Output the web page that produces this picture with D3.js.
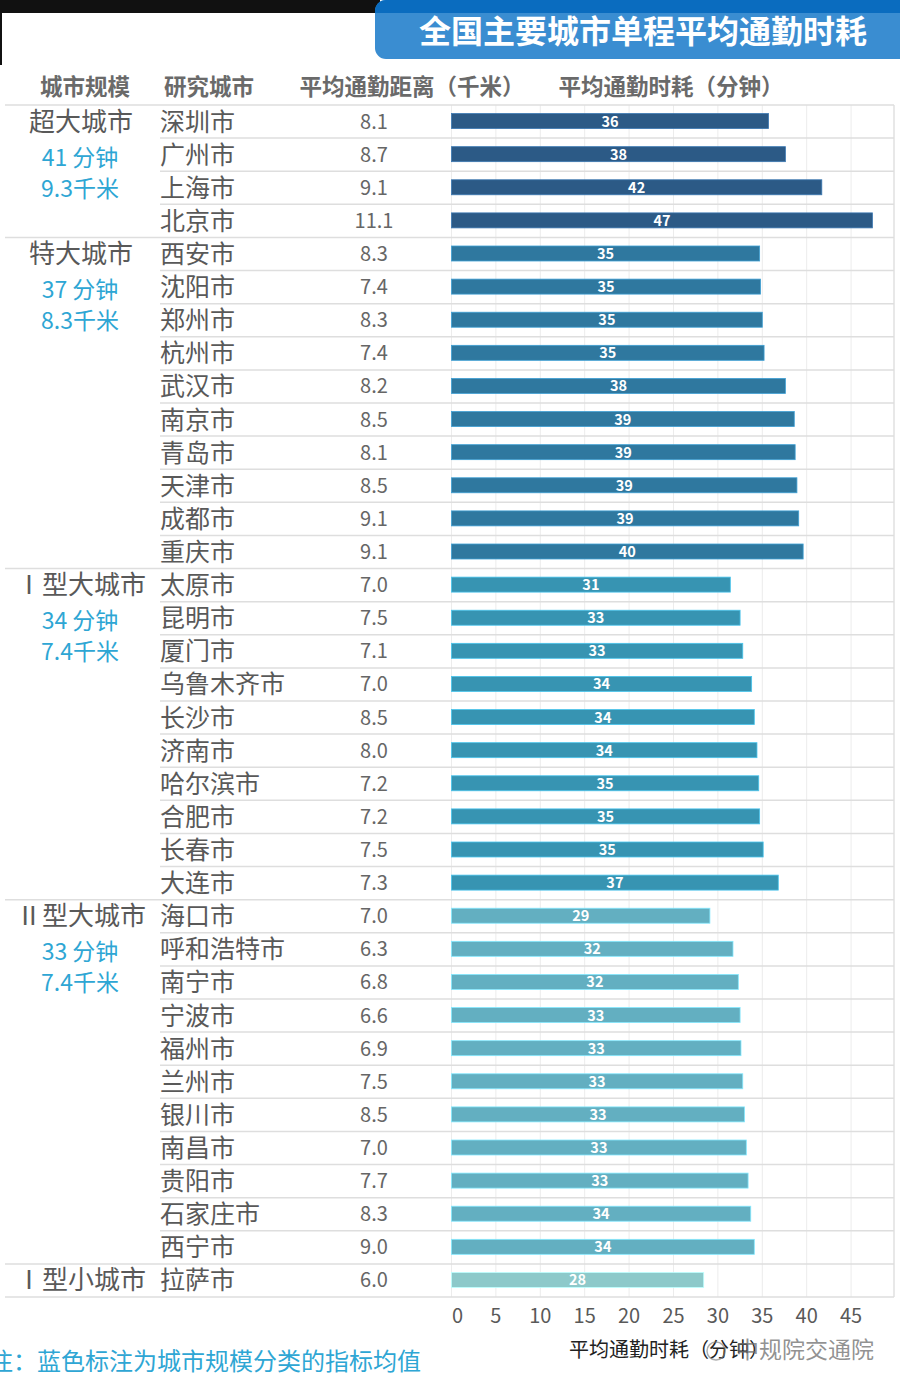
<!DOCTYPE html>
<html><head><meta charset="utf-8">
<script src="https://cdn.jsdelivr.net/npm/d3@7/dist/d3.min.js"></script>
<style>body{margin:0;background:#fff;}svg{display:block;font-family:"Noto Sans CJK SC","Noto Sans",sans-serif;}</style>
</head><body><svg id="c" width="900" height="1392"></svg>
<script>
const groups = ["超大城市","特大城市","Ⅰ型大城市","Ⅱ型大城市","Ⅰ型小城市"];
const groupMeanTime = ["41 分钟","37 分钟","34 分钟","33 分钟",""];
const groupMeanDist = ["9.3千米","8.3千米","7.4千米","7.4千米",""];
const cities = ["深圳市","广州市","上海市","北京市",
 "西安市","沈阳市","郑州市","杭州市","武汉市","南京市","青岛市","天津市","成都市","重庆市",
 "太原市","昆明市","厦门市","乌鲁木齐市","长沙市","济南市","哈尔滨市","合肥市","长春市","大连市",
 "海口市","呼和浩特市","南宁市","宁波市","福州市","兰州市","银川市","南昌市","贵阳市","石家庄市","西宁市",
 "拉萨市"];
const cityGroup = [0,0,0,0, 1,1,1,1,1,1,1,1,1,1, 2,2,2,2,2,2,2,2,2,2, 3,3,3,3,3,3,3,3,3,3,3, 4];
const distance = [8.1,8.7,9.1,11.1, 8.3,7.4,8.3,7.4,8.2,8.5,8.1,8.5,9.1,9.1,
 7.0,7.5,7.1,7.0,8.5,8.0,7.2,7.2,7.5,7.3, 7.0,6.3,6.8,6.6,6.9,7.5,8.5,7.0,7.7,8.3,9.0, 6.0];
const commuteTime = [35.7,37.6,41.7,47.4, 34.7,34.8,35.0,35.2,37.6,38.6,38.7,38.9,39.1,39.6,
 31.4,32.5,32.8,33.8,34.1,34.4,34.6,34.7,35.1,36.8, 29.1,31.7,32.3,32.5,32.6,32.8,33.0,33.2,33.4,33.7,34.1, 28.4];
const xTicks = [0,5,10,15,20,25,30,35,40,45];
const groupColors = ["#2c5a86","#2f789f","#3794b2","#63afc1","#8dc9ca"];

const svg = d3.select("#c");
const x = d3.scaleLinear().domain([0,50]).range([451.5,895.5]);
const y = d3.scaleBand().domain(cities).range([105,1297]).padding(0);
const bh = 15;
const gray = "#595959";

// title area
svg.append("rect").attr("x",0).attr("y",0).attr("width",380).attr("height",13).attr("fill","#111");
svg.append("rect").attr("x",0).attr("y",13).attr("width",2).attr("height",52).attr("fill","#111");
const defs = svg.append("defs");
defs.append("clipPath").attr("id","tb").append("rect").attr("x",375).attr("y",0).attr("width",540).attr("height",59).attr("rx",11);
const tg = svg.append("g").attr("clip-path","url(#tb)");
tg.append("rect").attr("x",375).attr("y",0).attr("width",540).attr("height",59).attr("fill","#3a8dd1");
tg.append("rect").attr("x",375).attr("y",0).attr("width",540).attr("height",13).attr("fill","#0a6cbf");
svg.append("text").attr("x",643).attr("y",43).attr("text-anchor","middle").attr("fill","#fff")
 .attr("font-size",32).attr("font-weight","bold").text("全国主要城市单程平均通勤时耗");

// headers
const heads = [["城市规模",85],["研究城市",209],["平均通勤距离（千米）",412],["平均通勤时耗（分钟）",671]];
svg.selectAll("text.h").data(heads).enter().append("text").attr("class","h")
 .attr("x",d=>d[1]).attr("y",95).attr("text-anchor","middle").attr("fill","#6a6a6a")
 .attr("font-size",22.5).attr("font-weight","bold").text(d=>d[0]);

// vertical grid
svg.selectAll("line.vg").data(xTicks).enter().append("line").attr("class","vg")
 .attr("x1",d=>x(d)).attr("x2",d=>x(d)).attr("y1",105).attr("y2",1297)
 .attr("stroke","#ececec").attr("stroke-width",1);
svg.append("line").attr("x1",894).attr("x2",894).attr("y1",105).attr("y2",1297).attr("stroke","#e0e0e0").attr("stroke-width",1.5);

// row lines
const rowLines = cities.map((c,i)=>({y:y(c), start: (i===0||cityGroup[i]!==cityGroup[i-1])?5:160}));
rowLines.push({y:1297,start:5});
svg.selectAll("line.rl").data(rowLines).enter().append("line").attr("class","rl")
 .attr("x1",d=>d.start).attr("x2",894).attr("y1",d=>d.y).attr("y2",d=>d.y)
 .attr("stroke","#dedede").attr("stroke-width",1.5);

// group labels
groups.forEach((g,gi)=>{
  const first = cities[cityGroup.indexOf(gi)];
  const cy = y(first)+y.bandwidth()/2;
  svg.append("text").attr("x",81).attr("y",cy+9).attr("text-anchor","middle").attr("fill",gray)
   .attr("font-size",26).text(g);
  svg.append("text").attr("x",80).attr("y",cy+44).attr("text-anchor","middle").attr("fill","#2ea6d4")
   .attr("font-size",23).text(groupMeanTime[gi]);
  svg.append("text").attr("x",80).attr("y",cy+75).attr("text-anchor","middle").attr("fill","#2ea6d4")
   .attr("font-size",23).text(groupMeanDist[gi]);
});

// city names & distances
svg.selectAll("text.city").data(cities).enter().append("text").attr("class","city")
 .attr("x",160).attr("y",d=>y(d)+y.bandwidth()/2+9).attr("fill",gray).attr("font-size",25).text(d=>d);
svg.selectAll("text.dist").data(distance).enter().append("text").attr("class","dist")
 .attr("x",374).attr("y",(d,i)=>y(cities[i])+y.bandwidth()/2+7).attr("text-anchor","middle")
 .attr("fill","#666").attr("font-size",20).text(d=>d3.format(".1f")(d));

// bars
svg.selectAll("rect.bar").data(commuteTime).enter().append("rect").attr("class","bar")
 .attr("x",x(0)).attr("y",(d,i)=>y(cities[i])+y.bandwidth()/2-bh/2-0.5)
 .attr("width",d=>x(d)-x(0)).attr("height",bh)
 .attr("fill",(d,i)=>groupColors[cityGroup[i]])
 .attr("stroke",(d,i)=>d3.color(groupColors[cityGroup[i]]).brighter(0.8)).attr("stroke-width",0.8);
svg.selectAll("text.val").data(commuteTime).enter().append("text").attr("class","val")
 .attr("x",d=>(x(0)+x(d))/2).attr("y",(d,i)=>y(cities[i])+y.bandwidth()/2+5)
 .attr("text-anchor","middle").attr("fill","#fff").attr("font-size",14.5).attr("font-weight","bold")
 .text(d=>Math.round(d));

// axis ticks
svg.selectAll("text.tick").data(xTicks).enter().append("text").attr("class","tick")
 .attr("x",d=>d===0?x(d)+6:x(d)).attr("y",1323).attr("text-anchor","middle")
 .attr("fill",gray).attr("font-size",20).text(d=>d);
svg.append("text").attr("x",569).attr("y",1357).attr("fill","#222").attr("font-size",20).text("平均通勤时耗（分钟）");
// watermark
svg.append("circle").attr("cx",716).attr("cy",1351).attr("r",9).attr("fill","none").attr("stroke","rgba(120,120,120,0.6)").attr("stroke-width",1.5);
svg.append("text").attr("x",736).attr("y",1358).attr("fill","rgba(110,110,110,0.75)").attr("font-size",23).text("中规院交通院");
// footnote
svg.append("text").attr("x",-11).attr("y",1370).attr("fill","#2ea6d4").attr("font-size",24).text("注：蓝色标注为城市规模分类的指标均值");
</script></body></html>
